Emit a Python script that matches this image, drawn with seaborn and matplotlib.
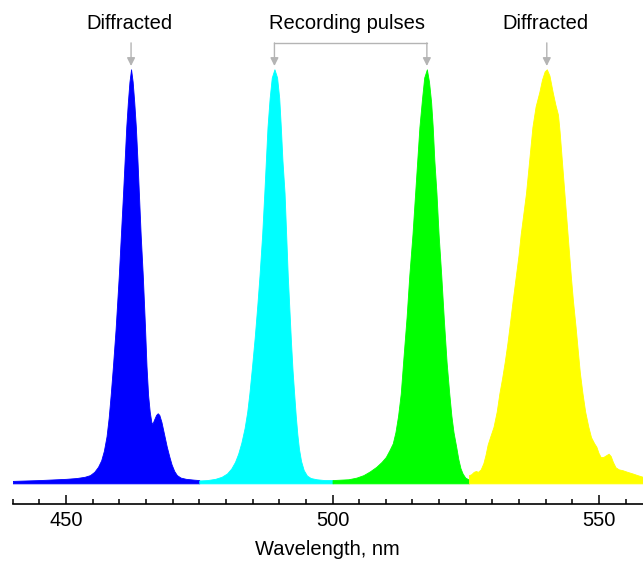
import numpy as np
import matplotlib
matplotlib.use("Agg")
import matplotlib.pyplot as plt
from matplotlib.ticker import MultipleLocator
import seaborn as sns

# spectrum pieces, one per pulse colour (wavelength nm, normalised intensity)
blue_wl = [440, 445, 450, 452, 453.5, 454.5, 455.3, 456.0, 456.6, 457.1, 457.6, 458.0, 458.4,
           458.8, 459.3, 459.9, 460.3, 460.7, 461.0, 461.3, 461.6, 461.9, 462.2, 462.5, 462.8,
           463.1, 463.4, 463.7, 464.0, 464.4, 464.8, 465.1, 465.4, 465.7, 466.0, 466.2, 466.5,
           466.9, 467.2, 467.5, 467.9, 468.4, 468.9, 469.4, 469.8, 470.3, 470.8, 471.5, 472.5,
           474, 475]
blue_int = [0.002, 0.004, 0.007, 0.009, 0.012, 0.016, 0.024, 0.036, 0.052, 0.075, 0.11, 0.155,
            0.214, 0.28, 0.37, 0.5, 0.6, 0.70, 0.78, 0.86, 0.92, 0.97, 1.0, 0.97, 0.92,
            0.86, 0.78, 0.69, 0.6, 0.5, 0.38, 0.28, 0.21, 0.17, 0.145, 0.14, 0.15,
            0.162, 0.166, 0.162, 0.145, 0.115, 0.085, 0.06, 0.042, 0.026, 0.016, 0.01, 0.007,
            0.005, 0.004]

cyan_wl = [475, 476.5, 478, 479.2, 480.2, 481.0, 481.7, 482.3, 482.9, 483.5, 484.0, 484.4,
           484.9, 485.4, 485.9, 486.3, 486.8, 487.2, 487.5, 487.8, 488.2, 488.6, 489.1, 489.6,
           490.0, 490.3, 490.6, 491.0, 491.3, 491.6, 491.9, 492.2, 492.5, 492.8, 493.1, 493.4,
           493.7, 494.1, 494.6, 495.2, 495.9, 497, 498.5, 500]
cyan_int = [0.003, 0.004, 0.007, 0.012, 0.02, 0.032, 0.048, 0.068, 0.095, 0.13, 0.17, 0.214,
            0.28, 0.35, 0.43, 0.5, 0.6, 0.70, 0.78, 0.86, 0.93, 0.98, 1.0, 0.98,
            0.93, 0.86, 0.78, 0.70, 0.6, 0.5, 0.42, 0.34, 0.27, 0.214, 0.16, 0.115,
            0.08, 0.05, 0.028, 0.015, 0.009, 0.006, 0.004, 0.004]

green_wl = [500, 501.5, 503, 504.5, 505.8, 507, 508.2, 509.2, 510.0, 510.7, 511.3, 511.8,
            512.3, 512.8, 513.3, 513.9, 514.4, 515.0, 515.5, 515.9, 516.3, 516.8, 517.2, 517.7,
            518.1, 518.5, 518.8, 519.1, 519.5, 519.9, 520.4, 520.9, 521.4, 521.9, 522.3, 522.7,
            523.2, 523.6, 524.0, 524.4, 524.9, 525.6]
green_int = [0.004, 0.005, 0.006, 0.01, 0.016, 0.025, 0.036, 0.048, 0.06, 0.077, 0.093, 0.12,
             0.16, 0.214, 0.3, 0.4, 0.5, 0.6, 0.70, 0.78, 0.86, 0.93, 0.98, 1.0,
             0.97, 0.92, 0.86, 0.78, 0.70, 0.6, 0.5, 0.39, 0.29, 0.214, 0.16, 0.12,
             0.085, 0.055, 0.033, 0.02, 0.01, 0.005]

yellow_wl = [525.6, 526.0, 526.5, 526.9, 527.3, 527.8, 528.3, 528.7, 529.1, 529.6, 530.2, 530.8,
             531.3, 531.8, 532.3, 532.8, 533.2, 533.8, 534.4, 534.9, 535.3, 535.8, 536.3, 536.9,
             537.5, 538.1, 538.8, 539.3, 539.8, 540.2, 540.7, 541.3, 541.8, 542.3, 542.6, 542.9,
             543.2, 543.5, 543.8, 544.1, 544.4, 544.7, 545.1, 545.6, 546.0, 546.4, 546.9, 547.4,
             548.0, 548.5, 549.1, 549.5, 549.9, 550.3, 550.8, 551.3, 551.8, 552.2, 552.6, 553.1,
             553.7, 554.4, 555.3, 556.3, 557.2, 558.2]
yellow_int = [0.016, 0.018, 0.024, 0.026, 0.024, 0.03, 0.045, 0.065, 0.09, 0.11, 0.133, 0.17,
              0.214, 0.25, 0.29, 0.335, 0.376, 0.44, 0.5, 0.55, 0.6, 0.65, 0.70, 0.78,
              0.86, 0.91, 0.945, 0.975, 0.995, 1.0, 0.985, 0.945, 0.915, 0.89, 0.85, 0.80,
              0.75, 0.70, 0.65, 0.6, 0.55, 0.5, 0.44, 0.376, 0.32, 0.265, 0.214, 0.17,
              0.133, 0.108, 0.093, 0.085, 0.07, 0.06, 0.06, 0.064, 0.068, 0.062, 0.048, 0.035,
              0.03, 0.028, 0.024, 0.02, 0.016, 0.012]

diffracted_peaks = [462.2, 540.2]
recording_peaks = [489.1, 517.7]

sns.set_style("ticks")
plt.rcParams["font.family"] = ["Liberation Sans", "DejaVu Sans"]
plt.rcParams["text.color"] = "black"
plt.rcParams["axes.labelcolor"] = "black"
plt.rcParams["xtick.color"] = "black"

fig = plt.figure(figsize=(6.43, 5.64), dpi=100)
ax = fig.add_axes([0.0198, 0.1064, 0.9802, 0.8936])

pieces = [
    (blue_wl, blue_int, "#0000ff"),
    (cyan_wl, cyan_int, "#00ffff"),
    (green_wl, green_int, "#00ff00"),
    (yellow_wl, yellow_int, "#ffff00"),
]
for wl, inten, col in pieces:
    ax.fill_between(wl, -0.004, inten, color=col, lw=0.6, edgecolor=col)

ax.set_xlim(440, 558.25)
ax.set_ylim(-0.054, 1.168)

ax.xaxis.set_major_locator(MultipleLocator(50))
ax.xaxis.set_minor_locator(MultipleLocator(5))
ax.tick_params(axis="x", which="major", direction="in", length=6.7, width=1.1,
               labelsize=14.5, pad=5)
ax.tick_params(axis="x", which="minor", direction="in", length=3.6, width=1.1)
ax.set_yticks([])
sns.despine(ax=ax, left=True, top=True, right=True)
ax.spines["bottom"].set_linewidth(1.2)
ax.spines["bottom"].set_color("black")
ax.set_xlabel("Wavelength, nm", fontsize=14.5, labelpad=7)

grey = "#b4b4b4"
arrow_top, arrow_tip, text_y = 1.064, 1.008, 1.097
arrow = dict(arrowstyle="-|>", color=grey, lw=1.0, mutation_scale=12, shrinkA=0, shrinkB=0)

for p in diffracted_peaks:
    ax.annotate("", xy=(p, arrow_tip), xytext=(p, arrow_top), arrowprops=arrow)
    ax.text(p - 0.3, text_y, "Diffracted", ha="center", va="baseline", fontsize=14.5)

for p in recording_peaks:
    ax.annotate("", xy=(p, arrow_tip), xytext=(p, arrow_top), arrowprops=arrow)
ax.plot(recording_peaks, [arrow_top, arrow_top], color=grey, lw=1.0)
ax.text(np.mean(recording_peaks) - 0.6, text_y, "Recording pulses", ha="center",
        va="baseline", fontsize=14.5)

fig.savefig("out.png", dpi=100)
